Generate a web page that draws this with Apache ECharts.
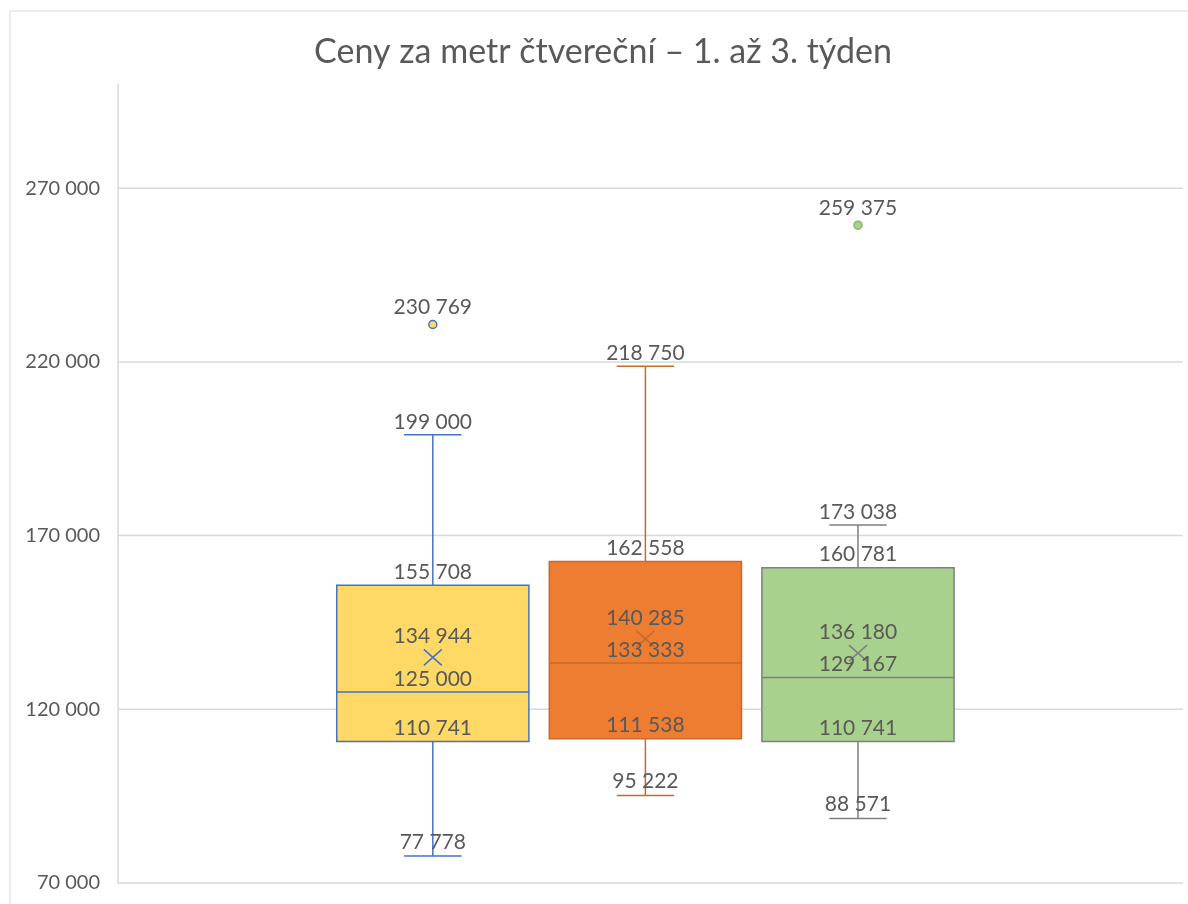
<!DOCTYPE html>
<html>
<head>
<meta charset="utf-8">
<title>Ceny za metr čtvereční</title>
<script src="https://cdn.jsdelivr.net/npm/echarts@6/dist/echarts.min.js"></script>
<style>
  html, body { margin: 0; padding: 0; background: #fff; }
  #chart { width: 1188px; height: 904px; }
</style>
</head>
<body>
<div id="chart"></div>
<script>
// data
const weeks = ['1. týden', '2. týden', '3. týden'];
const minVals = [77778, 95222, 88571];
const q1Vals = [110741, 111538, 110741];
const medianVals = [125000, 133333, 129167];
const q3Vals = [155708, 162558, 160781];
const maxVals = [199000, 218750, 173038];
const meanVals = [134944, 140285, 136180];
const outlierVals = [[230769], [], [259375]];
const yTicks = [70000, 120000, 170000, 220000, 270000];

// styling
const fills = ['#FFD966', '#ED7D31', '#A9D18E'];
const lines = ['#4472C4', '#C8692A', '#7F7F7F'];
const outlierBorders = ['#4472C4', '#C8692A', '#86B665'];
const textColor = '#595959';
const font = 'Lato, "Liberation Sans", sans-serif';
const BOX_HALF = 0.452;
const CAP_HALF = 0.135;

const fmt = v => String(v).replace(/\B(?=(\d{3})+(?!\d))/g, ' ');

function label(text, x, y) {
  return {
    type: 'text',
    z2: 10,
    style: {
      text, x, y,
      align: 'center',
      verticalAlign: 'middle',
      fill: textColor,
      font: '21px ' + font,
    },
  };
}

function renderBox(idx) {
  return (params, api) => {
    const x = api.value(0);
    const yMin = api.coord([x, api.value(1)])[1];
    const yQ1 = api.coord([x, api.value(2)])[1];
    const yMed = api.coord([x, api.value(3)])[1];
    const yQ3 = api.coord([x, api.value(4)])[1];
    const yMax = api.coord([x, api.value(5)])[1];
    const yMean = api.coord([x, api.value(6)])[1];
    const cx = api.coord([x, 0])[0];
    const left = api.coord([x - BOX_HALF, 0])[0];
    const right = api.coord([x + BOX_HALF, 0])[0];
    const capL = api.coord([x - CAP_HALF, 0])[0];
    const capR = api.coord([x + CAP_HALF, 0])[0];
    const ls = { stroke: lines[idx], lineWidth: 1.5, fill: null };
    const seg = (x1, y1, x2, y2) => ({ type: 'line', shape: { x1, y1, x2, y2 }, style: ls });
    return {
      type: 'group',
      children: [
        seg(cx, yQ3, cx, yMax),
        seg(cx, yQ1, cx, yMin),
        seg(capL, yMax, capR, yMax),
        seg(capL, yMin, capR, yMin),
        {
          type: 'rect',
          shape: { x: left, y: yQ3, width: right - left, height: yQ1 - yQ3 },
          style: { fill: fills[idx], stroke: lines[idx], lineWidth: 1.5 },
        },
        seg(left, yMed, right, yMed),
        seg(cx - 9, yMean - 8, cx + 9, yMean + 8),
        seg(cx - 9, yMean + 8, cx + 9, yMean - 8),
        label(fmt(api.value(5)), cx, yMax - 13),
        label(fmt(api.value(4)), cx, yQ3 - 13),
        label(fmt(api.value(6)), cx, yMean - 21),
        label(fmt(api.value(3)), cx, yMed - 13),
        label(fmt(api.value(2)), cx, yQ1 - 13),
        label(fmt(api.value(1)), cx, yMin - 14),
      ],
    };
  };
}

function renderOutlier(idx) {
  return (params, api) => {
    const p = api.coord([api.value(0), api.value(1)]);
    return {
      type: 'group',
      children: [
        {
          type: 'circle',
          shape: { cx: p[0], cy: p[1], r: 4 },
          style: { fill: fills[idx], stroke: outlierBorders[idx], lineWidth: 1.5 },
        },
        label(fmt(api.value(1)), p[0], p[1] - 17),
      ],
    };
  };
}

// horizontal gridlines, drawn under the boxes
const series = [{
  type: 'custom',
  name: 'mřížka',
  silent: true,
  z: 0,
  data: yTicks.map(v => [0, v]),
  encode: { y: 1 },
  renderItem: (params, api) => {
    const cs = params.coordSys;
    const y = api.coord([0, api.value(1)])[1];
    return {
      type: 'line',
      shape: { x1: cs.x, y1: y, x2: cs.x + cs.width, y2: y },
      style: { stroke: '#D9D9D9', lineWidth: 1.5 },
    };
  },
}];

weeks.forEach((name, i) => {
  series.push({
    type: 'custom',
    name,
    renderItem: renderBox(i),
    data: [[i + 1, minVals[i], q1Vals[i], medianVals[i], q3Vals[i], maxVals[i], meanVals[i]]],
    encode: { x: 0, y: [1, 2, 3, 4, 5, 6] },
    z: 3,
  });
  series.push({
    type: 'custom',
    name: name + ' odlehlé',
    renderItem: renderOutlier(i),
    data: outlierVals[i].map(v => [i + 1, v]),
    encode: { x: 0, y: 1 },
    z: 4,
  });
});

const chart = echarts.init(document.getElementById('chart'), null, { renderer: 'canvas' });
chart.setOption({
  animation: false,
  backgroundColor: '#fff',
  textStyle: { fontFamily: font },
  graphic: [{
    type: 'rect',
    shape: { x: 10, y: 11, width: 1200, height: 920 },
    style: { fill: null, stroke: '#D9D9D9', lineWidth: 1 },
    silent: true,
  }],
  title: {
    text: 'Ceny za metr čtvereční – 1. až 3. týden',
    left: 598,
    top: 30,
    textAlign: 'center',
    textStyle: { fontSize: 34, fontWeight: 'normal', color: textColor, fontFamily: font },
  },
  grid: { left: 118, right: 5, top: 84, bottom: 21 },
  xAxis: {
    type: 'value',
    min: -0.481,
    max: 4.529,
    show: false,
  },
  yAxis: {
    type: 'value',
    min: 70000,
    max: 300000,
    interval: 10000,
    axisLine: { show: true, onZero: false, lineStyle: { color: '#D9D9D9', width: 1.5 } },
    axisTick: { show: false },
    splitLine: { show: false },
    axisLabel: {
      margin: 18,
      color: textColor,
      fontSize: 20,
      fontFamily: font,
      formatter: v => (yTicks.includes(v) ? fmt(v) : ''),
    },
  },
  series,
});
</script>
</body>
</html>
